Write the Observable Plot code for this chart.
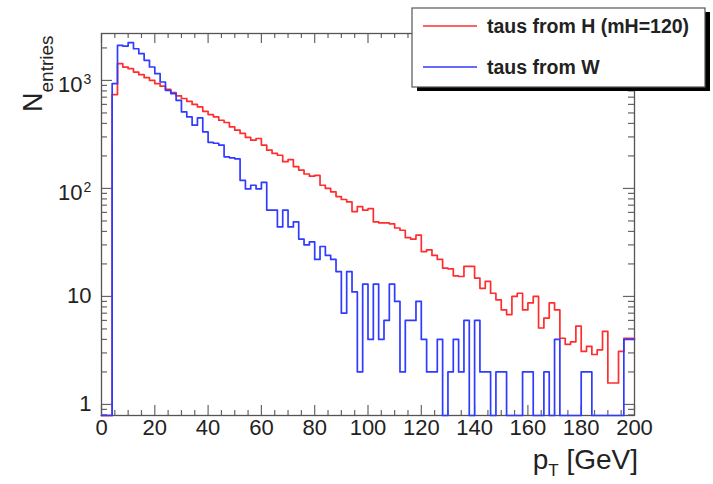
<!DOCTYPE html>
<html><head><meta charset="utf-8">
<script src="https://cdn.jsdelivr.net/npm/d3@7"></script>
<script src="https://cdn.jsdelivr.net/npm/@observablehq/plot@0.6"></script>
<style>
html,body{margin:0;padding:0;background:#fff;}
#chart{position:relative;width:713px;height:484px;}
</style></head><body><div id="chart"></div>
<script>
// ---- data ----
const binWidth = 2; // GeV
const tausFromH = [0,0,740,1430,1330,1285,1195,1130,1060,1000,
  935,885,825,770,720,680,640,600,568,518,
  483,459,428,408,371,346,323,297,280,290,
  252,226,211,203,177,185,159,148,136,130,
  132,107,100,93,84,79,75,61,68,63,
  65,49,48,48,47,43,41,35,34,37,
  26,27,24,22,18.3,18,15.5,15.3,19,19,
  14.8,11.9,13.8,10.7,9.3,7.5,6.8,10,10.7,7.5,
  8.7,10,5.1,6.3,8.7,7.5,4.1,3.6,3.8,5.3,
  3.1,3.45,2.9,3.2,4.75,1.58,1.58,3.1,4.1,4.1];
const tausFromW = [0,0,934,2110,2080,2235,1966,1768,1534,1331,
  1156,967,810,755,655,511,459,385,450,334,
  267,262,252,196,192,188,119,99,107,99,
  114,63,63,44,63,44,49,34,30,32,
  22,29,24,22,17,7,17,11,2,13,
  4,13,4,6,13,9,2,6,6,9,
  4,2,2,4,0,2,4,2,6,0,
  6,2,2,0,2,2,0,0,0,2,
  2,0,0,2,0,4,0,0,0,0,
  2,2,0,0,0,0,0,0,4,4];
const seriesNames = ["taus from H (mH=120)", "taus from W"];
const seriesColors = ["#ff2e2e", "#2f3bff"];
const xMajorTicks = [0,20,40,60,80,100,120,140,160,180,200];
const xMinorTicks = d3.range(0, 201, 5).filter(d => d % 20 !== 0);
const yMajorTicks = [1,10,100,1000];
const yTickBase = ["1","10","10","10"];
const yTickExp = ["","","2","3"];
const yMinorTicks = [0.1,1,10,100,1000].flatMap(d => [2,3,4,5,6,7,8,9].map(m => m*d));
const yDomain = [0.79, 2720];
const xDomain = [0, 200];

// ---- layout ----
const W = 713, H = 484, mL = 101, mR = 79, mT = 33, mB = 69;
const frameH = H - mT - mB, frameW = W - mL - mR;
const inkY = "#666";
const textColor = "#222";

function steps(values) {
  const pts = values.map((v, i) => ({x: i * binWidth, v}));
  pts.push({x: values.length * binWidth, v: values[values.length - 1]});
  return pts;
}
const yOf = d => d.v > 0 ? d.v : yDomain[0];
const yMinorIn = yMinorTicks.filter(d => d >= yDomain[0] && d <= yDomain[1]);
const yLabelsPlain = yMajorTicks.map((v, i) => ({v, base: yTickBase[i], exp: yTickExp[i]})).filter(d => !d.exp);
const yLabelsExp = yMajorTicks.map((v, i) => ({v, base: yTickBase[i], exp: yTickExp[i]})).filter(d => d.exp);

const plot = Plot.plot({
  width: W, height: H,
  marginLeft: mL, marginRight: mR, marginTop: mT, marginBottom: mB,
  x: {domain: xDomain, axis: null},
  y: {type: "log", domain: yDomain, axis: null},
  style: {fontFamily: "'Liberation Sans', Arial, Helvetica, sans-serif", background: "white", color: textColor},
  marks: [
    // ticks (inward, all four sides)
    Plot.tickX(xMajorTicks, {x: d => d, insetTop: frameH - 10, stroke: inkY, strokeWidth: 1.2}),
    Plot.tickX(xMajorTicks, {x: d => d, insetBottom: frameH - 10, stroke: inkY, strokeWidth: 1.2}),
    Plot.tickX(xMinorTicks, {x: d => d, insetTop: frameH - 5, stroke: inkY, strokeWidth: 1.2}),
    Plot.tickX(xMinorTicks, {x: d => d, insetBottom: frameH - 5, stroke: inkY, strokeWidth: 1.2}),
    Plot.tickY(yMajorTicks, {y: d => d, insetRight: frameW - 11, stroke: inkY, strokeWidth: 1.2}),
    Plot.tickY(yMajorTicks, {y: d => d, insetLeft: frameW - 11, stroke: inkY, strokeWidth: 1.2}),
    Plot.tickY(yMinorIn, {y: d => d, insetRight: frameW - 6, stroke: inkY, strokeWidth: 1.2}),
    Plot.tickY(yMinorIn, {y: d => d, insetLeft: frameW - 6, stroke: inkY, strokeWidth: 1.2}),
    Plot.frame({stroke: "#555", strokeWidth: 1.3}),
    // histograms
    Plot.line(steps(tausFromH), {x: "x", y: yOf, curve: "step-after", stroke: seriesColors[0], strokeWidth: 1.7}),
    Plot.line(steps(tausFromW), {x: "x", y: yOf, curve: "step-after", stroke: seriesColors[1], strokeWidth: 1.7}),
    // x tick labels
    Plot.text(xMajorTicks, {x: d => d, frameAnchor: "bottom", dy: 19, text: d => String(d), fontSize: 22, fill: textColor}),
    // y tick labels
    Plot.text(yLabelsPlain, {y: "v", frameAnchor: "left", dx: -10, textAnchor: "end", text: "base", fontSize: 22, fill: textColor}),
    Plot.text(yLabelsExp, {y: "v", frameAnchor: "left", dx: -19, dy: 5, textAnchor: "end", text: "base", fontSize: 22, fill: textColor}),
    Plot.text(yLabelsExp, {y: "v", frameAnchor: "left", dx: -18, dy: -1, textAnchor: "start", text: "exp", fontSize: 14, fill: textColor})
  ]
});

document.getElementById("chart").appendChild(plot);
const svg = d3.select(plot);
const font = "'Liberation Sans', Arial, Helvetica, sans-serif";

// axis titles
const xt = svg.append("text").attr("x", 638).attr("y", 469).attr("text-anchor", "end")
  .attr("font-family", font).attr("font-size", 28).attr("fill", textColor);
xt.append("tspan").text("p");
xt.append("tspan").attr("font-size", 17).attr("dy", 7).text("T");
xt.append("tspan").attr("dy", -7).text(" [GeV]");

const yt = svg.append("text").attr("transform", "translate(42,112) rotate(-90)")
  .attr("text-anchor", "start")
  .attr("font-family", font).attr("font-size", 27).attr("fill", textColor);
yt.append("tspan").text("N");
yt.append("tspan").attr("font-size", 19).attr("dy", 11).text("entries");

// legend box
const lg = svg.append("g");
lg.append("rect").attr("x", 417).attr("y", 12).attr("width", 293).attr("height", 79).attr("fill", "#000");
lg.append("rect").attr("x", 412).attr("y", 8).attr("width", 293).attr("height", 79)
  .attr("fill", "#fff").attr("stroke", "#555").attr("stroke-width", 1.2);
const rowsY = [26, 67];
seriesNames.forEach((name, i) => {
  lg.append("line").attr("x1", 423).attr("x2", 477).attr("y1", rowsY[i]).attr("y2", rowsY[i])
    .attr("stroke", seriesColors[i]).attr("stroke-width", 1.7);
  lg.append("text").attr("x", 487).attr("y", rowsY[i] + 7).attr("text-anchor", "start")
    .attr("font-family", font).attr("font-weight", "bold").attr("font-size", 19.5)
    .attr("fill", textColor).text(name);
});
</script></body></html>
